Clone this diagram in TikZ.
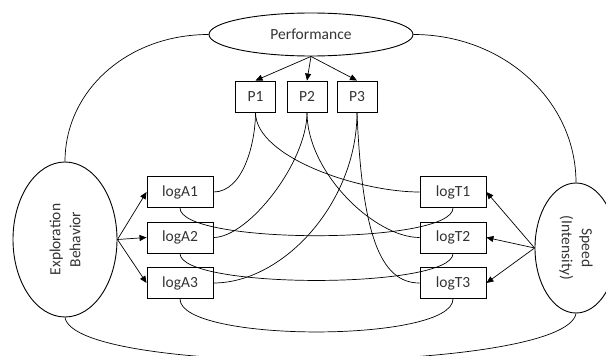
\documentclass[tikz,border=0pt]{standalone}
\usepackage{fontspec}
\setmainfont{Carlito}
\usetikzlibrary{arrows.meta,shapes.geometric}
\begin{document}
\begin{tikzpicture}[x=1pt,y=-1pt,
  every node/.style={text=black!80, font=\fontsize{15.5}{20}\selectfont},
  latent/.style={draw=black, ellipse, line width=0.9pt, inner sep=0pt},
  lbl/.style={align=center, inner sep=0pt},
  ind/.style={draw=black, rectangle, line width=0.9pt, minimum height=31pt, inner sep=0pt},
  pbox/.style={ind, minimum width=40pt},
  lbox/.style={ind, minimum width=66pt},
  link/.style={line width=0.7pt},
  load/.style={line width=0.7pt, -{Triangle[length=7pt,width=6pt]}}]

\path[use as bounding box, clip] (0,0) rectangle (606,356);

% latent variables
\node[latent, minimum width=204pt, minimum height=43pt] (perf) at (311,34.5) {Performance};
\node[latent, minimum width=104pt, minimum height=155pt] (expl) at (65,239.5) {};
\node[lbl, rotate=90] (explText) at (expl.center) {Exploration\\Behavior};
\node[latent, minimum width=82pt, minimum height=130pt] (speed) at (576,248) {};
\node[lbl, rotate=-90] (speedText) at (speed.center) {Speed\\(Intensity)};

% indicators
\node[pbox] (P1) at (255.5,96.5) {P1};
\node[pbox] (P2) at (307,96.5) {P2};
\node[pbox] (P3) at (357,96.5) {P3};
\node[lbox] (lA1) at (180,192) {logA1};
\node[lbox] (lA2) at (180,237.5) {logA2};
\node[lbox] (lA3) at (180,283) {logA3};
\node[lbox] (lT1) at (453,192) {logT1};
\node[lbox] (lT2) at (453,237.5) {logT2};
\node[lbox] (lT3) at (453,283) {logT3};

% loadings
\draw[load] (perf.south) -- (P1.north);
\draw[load] (perf.south) -- (P2.north);
\draw[load] (perf.south) -- (P3.north);
\draw[load] (expl.east) -- (lA1.west);
\draw[load] (expl.east) -- (lA2.west);
\draw[load] (expl.east) -- (lA3.west);
\draw[load] (speed.west) -- (lT1.east);
\draw[load] (speed.west) -- (lT2.east);
\draw[load] (speed.west) -- (lT3.east);

% latent covariances
\draw[link] (perf.west) .. controls +(-81,0) and +(0,-71) .. (expl.north);
\draw[link] (perf.east) .. controls +(90,0) and +(0,-82) .. (speed.north);
\draw[link] (expl.south) .. controls +(10,60) and +(-10,60) .. (speed.south);

% residual covariances
\draw[link] (P1.south) .. controls +(0,30) and +(30,0) .. (lA1.east);
\draw[link] (P1.south) .. controls +(0,45) and +(-60,0) .. (lT1.west);
\draw[link] (P2.south) .. controls +(0,50) and +(35,0) .. (lA2.east);
\draw[link] (P2.south) .. controls +(0,60) and +(-45,0) .. (lT2.west);
\draw[link] (P3.south) .. controls +(0,90) and +(70,0) .. (lA3.east);
\draw[link] (P3.south) .. controls +(5,120) and +(-40,0) .. (lT3.west);
\draw[link] (lA1.south) .. controls +(0,37) and +(0,37) .. (lT1.south);
\draw[link] (lA2.south) .. controls +(0,36) and +(0,36) .. (lT2.south);
\draw[link] (lA3.south) .. controls +(0,44) and +(0,44) .. (lT3.south);
\end{tikzpicture}
\end{document}
